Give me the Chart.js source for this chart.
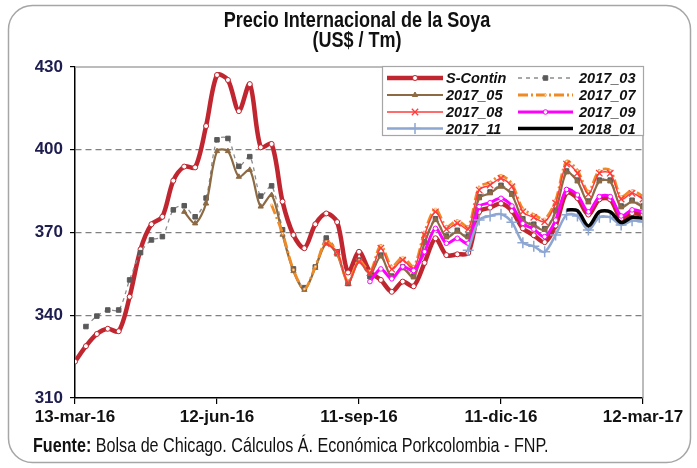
<!DOCTYPE html>
<html lang="es">
<head>
<meta charset="UTF-8" />
<title>Precio Internacional de la Soya</title>
<script src="https://cdn.jsdelivr.net/npm/chart.js@4.4.0/dist/chart.umd.min.js"></script>
<style>
  html, body { margin: 0; padding: 0; background: #fff; }
  #wrap { width: 697px; height: 468px; position: relative; }
</style>
</head>
<body>
<div id="wrap"><canvas id="soya"></canvas></div>
<script>
// weekly quotes, 13-mar-16 .. 12-mar-17 (53 weeks), US$ / Tm
const tickLabels = ["13-mar-16", "12-jun-16", "11-sep-16", "11-dic-16", "12-mar-17"];
const weeksPerTick = 13;
const seriesNames = ["S-Contin", "2017_03", "2017_05", "2017_07", "2017_08", "2017_09", "2017_11", "2018_01"];

const sContin = [323.2, 328.8, 333.2, 335.1, 334.2, 346.7, 363.9, 373.0, 375.7, 388.8,
    393.9, 393.6, 408.6, 427.1, 425.3, 414.0, 423.8, 400.9, 402.1, 381.2,
    369.1, 364.3, 373.0, 376.9, 373.8, 355.5, 363.0, 355.8, 352.8, 348.5,
    352.2, 350.5, 359.0, 367.9, 361.8, 362.1, 362.6, 377.5, 379.0, 380.5,
    377.8, 371.5, 369.0, 366.5, 372.5, 384.5, 382.5, 376.5, 382.0, 382.0,
    375.0, 377.0, 376.5];
const s1703 = [null, 335.9, 339.7, 341.9, 341.9, 352.8, 362.7, 367.3, 368.5, 378.2,
    379.7, 375.7, 382.5, 403.6, 404.1, 394.0, 397.5, 383.2, 386.9, 371.0,
    356.8, 350.0, 357.5, 368.0, 363.0, 351.5, 360.0, 354.0, 361.8, 354.2,
    357.5, 354.2, 366.6, 375.0, 368.7, 370.8, 368.7, 382.9, 384.7, 387.1,
    384.1, 375.0, 373.0, 371.4, 378.1, 392.3, 389.0, 381.4, 389.0, 389.0,
    379.6, 381.7, 379.6];
const s1705 = [null, null, null, null, null, null, null, null, null, null,
    377.5, 373.3, 380.5, 399.5, 399.5, 390.2, 392.7, 379.4, 383.6, 369.2,
    356.0, 349.2, 357.2, 366.0, 362.0, 351.8, 359.5, 355.0, 361.3, 353.7,
    357.0, 353.7, 366.1, 374.5, 368.2, 370.3, 368.2, 382.4, 384.2, 386.6,
    383.6, 374.5, 372.5, 370.9, 377.6, 391.8, 388.5, 380.9, 388.5, 388.5,
    379.1, 381.2, 379.1];
const s1707 = [null, null, null, null, null, null, null, null, null, null,
    null, null, null, null, null, null, null, null, 380.0, 369.7,
    356.4, 349.5, 357.6, 366.7, 362.7, 352.2, 360.0, 355.8, 365.3, 357.7,
    361.0, 357.7, 370.1, 378.5, 372.2, 374.3, 372.2, 386.4, 388.2, 390.6,
    387.6, 378.5, 376.5, 374.9, 381.6, 395.8, 392.5, 384.9, 392.5, 392.5,
    383.1, 385.2, 383.1];
const s1708 = [null, null, null, null, null, null, null, null, null, null,
    null, null, null, null, null, null, null, null, null, null,
    null, null, null, 366.0, 363.0, 351.8, 359.4, 355.4, 364.3, 356.7,
    360.0, 356.7, 369.1, 377.5, 371.2, 373.3, 371.2, 385.4, 387.2, 389.6,
    386.6, 377.5, 375.5, 373.9, 380.6, 394.8, 391.5, 383.9, 391.5, 391.5,
    382.1, 384.2, 382.1];
const s1709 = [null, null, null, null, null, null, null, null, null, null,
    null, null, null, null, null, null, null, null, null, null,
    null, null, null, null, null, null, null, 352.2, 356.8, 353.2,
    357.6, 356.2, 363.0, 371.5, 366.1, 367.9, 366.1, 379.4, 380.8, 382.4,
    379.6, 373.3, 371.2, 368.5, 374.5, 385.6, 383.6, 377.5, 383.0, 383.0,
    376.0, 378.2, 377.5];
const s1711 = [null, null, null, null, null, null, null, null, null, null,
    null, null, null, null, null, null, null, null, null, null,
    null, null, null, null, null, null, null, null, null, null,
    null, null, null, null, null, null, 363.6, 374.5, 376.0, 376.6,
    373.7, 366.3, 365.0, 363.0, 369.1, 376.4, 376.0, 370.9, 375.5, 375.5,
    372.7, 374.3, 373.9];
const s1801 = [null, null, null, null, null, null, null, null, null, null,
    null, null, null, null, null, null, null, null, null, null,
    null, null, null, null, null, null, null, null, null, null,
    null, null, null, null, null, null, null, null, null, null,
    null, null, null, null, null, 378.2, 377.9, 372.4, 377.5, 377.5,
    373.6, 375.5, 375.1];

function hasFont(name) {
    const c = document.createElement("canvas").getContext("2d");
    c.font = "20px monospace";
    const a = c.measureText("abcdefghijMW").width;
    c.font = '20px "' + name + '", monospace';
    return c.measureText("abcdefghijMW").width !== a;
}
const narrowOk = hasFont("Liberation Sans Narrow");
const FAM = narrowOk ? '"Liberation Sans Narrow", "Liberation Sans", Arial, sans-serif'
                     : '"Liberation Sans", Arial, sans-serif';
const squeeze = narrowOk ? 1 : 0.82;
const tickSize = narrowOk ? 20 : 17;

const pts = (arr) => arr.map((y, x) => ({ x: x, y: y }));

function drawNarrow(ctx, str, x, y, font, align) {
    ctx.save();
    ctx.font = font;
    ctx.textAlign = align || "left";
    ctx.textBaseline = "alphabetic";
    ctx.translate(x, y);
    ctx.scale(squeeze, 1);
    ctx.fillText(str, 0, 0);
    const w = ctx.measureText(str).width * squeeze;
    ctx.restore();
    return w;
}

const decor = {
    id: "decor",
    beforeDraw(chart) {
        const ctx = chart.ctx;
        ctx.save();
        ctx.fillStyle = "#fff";
        ctx.fillRect(0, 0, chart.width, chart.height);
        ctx.strokeStyle = "#a6a6a6";
        ctx.lineWidth = 1.5;
        ctx.beginPath();
        ctx.roundRect(8.5, 5.5, 682, 457, 24);
        ctx.stroke();
        ctx.restore();
    },
    afterDraw(chart) {
        const ctx = chart.ctx;
        const a = chart.chartArea;
        ctx.save();
        // top / right frame of the plot
        ctx.strokeStyle = "#a6a6a6";
        ctx.lineWidth = 1.5;
        ctx.beginPath();
        ctx.moveTo(a.left, a.top);
        ctx.lineTo(a.right, a.top);
        ctx.lineTo(a.right, a.bottom);
        ctx.stroke();

        // title
        ctx.fillStyle = "#111";
        drawNarrow(ctx, "Precio Internacional de la Soya", 357, 27, "bold 22px " + FAM, "center");
        drawNarrow(ctx, "(US$ / Tm)", 357, 47, "bold 22px " + FAM, "center");

        // footer
        let fx = 33;
        fx += drawNarrow(ctx, "Fuente:", fx, 452, "bold 19.7px " + FAM, "left");
        drawNarrow(ctx, " Bolsa de Chicago. Cálculos Á. Económica Porkcolombia - FNP.", fx, 452, "19.7px " + FAM, "left");

        // legend box
        const lx = 382, ly = 66, lw = 261, lh = 69;
        ctx.fillStyle = "#fff";
        ctx.fillRect(lx, ly, lw, lh);
        ctx.strokeStyle = "#a6a6a6";
        ctx.lineWidth = 1.2;
        ctx.strokeRect(lx + 0.5, ly + 0.5, lw, lh);

        const colLine = [[387, 443], [518, 573]];
        const colText = [446, 579];
        const rowY = [78, 95, 112, 128.5];
        chart.data.datasets.forEach((ds, k) => {
            const r = Math.floor(k / 2), c = k % 2;
            const y = rowY[r];
            const [x1, x2] = colLine[c];
            ctx.save();
            ctx.strokeStyle = ds.borderColor;
            ctx.lineWidth = ds.borderWidth;
            ctx.setLineDash(ds.borderDash || []);
            ctx.beginPath();
            ctx.moveTo(x1, y);
            ctx.lineTo(x2, y);
            ctx.stroke();
            ctx.setLineDash([]);
            if (ds.pointRadius > 0) {
                ctx.fillStyle = ds.pointBackgroundColor;
                ctx.strokeStyle = ds.pointBorderColor;
                ctx.lineWidth = ds.pointBorderWidth;
                Chart.helpers.drawPoint(ctx, {
                    pointStyle: ds.pointStyle, radius: ds.pointRadius,
                    rotation: 0, borderWidth: ds.pointBorderWidth
                }, (x1 + x2) / 2, y);
            }
            ctx.restore();
            ctx.fillStyle = "#111";
            ctx.font = 'italic bold 14.5px "Liberation Sans", Arial, sans-serif';
            ctx.textBaseline = "middle";
            ctx.textAlign = "left";
            ctx.fillText(seriesNames[k], colText[c], y + 1);
        });
        ctx.restore();
    }
};

const smooth = 0.3;
const datasets = [
    { label: seriesNames[0], data: pts(sContin), borderColor: "#c0262f", borderWidth: 4.5,
      pointStyle: "circle", pointRadius: 2.5, pointBackgroundColor: "#fff", pointBorderColor: "#c0262f", pointBorderWidth: 1, order: 8 },
    { label: seriesNames[1], data: pts(s1703), borderColor: "#8c8c8c", borderWidth: 1.3, borderDash: [4, 4],
      pointStyle: "rect", pointRadius: 3.2, pointBackgroundColor: "#5a5a5a", pointBorderColor: "#5a5a5a", pointBorderWidth: 1, order: 7 },
    { label: seriesNames[2], data: pts(s1705), borderColor: "#8c6a44", borderWidth: 2.2,
      pointStyle: "triangle", pointRadius: 3, pointBackgroundColor: "#8c6a44", pointBorderColor: "#8c6a44", pointBorderWidth: 1, order: 6 },
    { label: seriesNames[3], data: pts(s1707), borderColor: "#f08a24", borderWidth: 2.8, borderDash: [10, 3, 2, 3],
      pointStyle: "rect", pointRadius: 1.3, pointBackgroundColor: "#fff", pointBorderColor: "#f08a24", pointBorderWidth: 0.5, order: 5 },
    { label: seriesNames[4], data: pts(s1708), borderColor: "#ff3b3b", borderWidth: 1.5,
      pointStyle: "crossRot", pointRadius: 4.5, pointBackgroundColor: "#ff3b3b", pointBorderColor: "#ff3b3b", pointBorderWidth: 1.3, order: 4 },
    { label: seriesNames[5], data: pts(s1709), borderColor: "#ff00ff", borderWidth: 3,
      pointStyle: "circle", pointRadius: 2.3, pointBackgroundColor: "#fff", pointBorderColor: "#ff00ff", pointBorderWidth: 1, order: 3 },
    { label: seriesNames[6], data: pts(s1711), borderColor: "#8ea6d2", borderWidth: 2.5,
      pointStyle: "cross", pointRadius: 5.5, pointBackgroundColor: "#8ea6d2", pointBorderColor: "#8ea6d2", pointBorderWidth: 1.5, order: 2 },
    { label: seriesNames[7], data: pts(s1801), borderColor: "#000", borderWidth: 3.5,
      pointStyle: "circle", pointRadius: 0, pointBackgroundColor: "#000", pointBorderColor: "#000", pointBorderWidth: 0, order: 1 },
];
datasets.forEach((d) => { d.tension = smooth; d.fill = false; d.spanGaps = false; d.pointHoverRadius = d.pointRadius; });

const gridValues = [340, 370, 400];

new Chart(document.getElementById("soya"), {
    type: "line",
    data: { datasets: datasets },
    options: {
        responsive: true,
        maintainAspectRatio: false,
        animation: false,
        devicePixelRatio: 1,
        layout: { padding: { left: 20, right: 54, top: 67, bottom: 35 } },
        plugins: { legend: { display: false }, title: { display: false }, tooltip: { enabled: false } },
        scales: {
            x: {
                type: "linear",
                min: 0,
                max: (tickLabels.length - 1) * weeksPerTick,
                afterBuildTicks: (scale) => { scale.ticks = tickLabels.map((_, i) => ({ value: i * weeksPerTick })); },
                afterFit: (scale) => { scale.height = 35; },
                grid: { display: true, drawOnChartArea: false, drawTicks: true, tickLength: 6, color: "#000", lineWidth: 1.2 },
                border: { display: true, color: "#000", width: 1.5 },
                ticks: {
                    autoSkip: false, maxRotation: 0, padding: 3, color: "#111",
                    font: { family: FAM, size: tickSize, weight: "bold" },
                    callback: (v) => tickLabels[Math.round(v / weeksPerTick)] || ""
                }
            },
            y: {
                min: 310,
                max: 430,
                afterFit: (scale) => { scale.width = 55; },
                grid: {
                    color: (c) => gridValues.includes(c.tick.value) ? "#808080" : "rgba(0,0,0,0)",
                    tickColor: "#000", tickLength: 5, lineWidth: 1.2
                },
                border: { display: true, color: "#000", width: 1.5, dash: [6, 4] },
                ticks: {
                    stepSize: 30, padding: 7, color: "#1d1d4f",
                    font: { family: FAM, size: tickSize, weight: "bold" }
                }
            }
        }
    },
    plugins: [decor]
});
</script>
</body>
</html>
